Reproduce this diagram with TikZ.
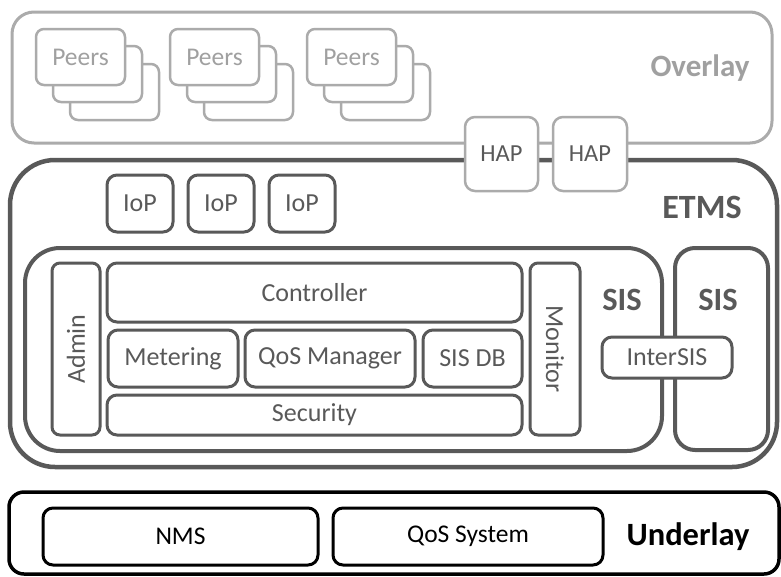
\documentclass[tikz,border=0pt]{standalone}
\usepackage{fontspec}
\setmainfont{Carlito}
\definecolor{lightg}{RGB}{171,171,171}
\definecolor{lightt}{RGB}{160,160,160}
\definecolor{darkg}{RGB}{89,89,89}
\begin{document}
\begin{tikzpicture}[x=1pt,y=-1pt,
  base/.style={draw,inner sep=0pt,outer sep=0pt,align=center},
  peer/.style={base,draw=lightg,line width=2.5pt,rounded corners=8pt,fill=white,
    minimum width=89pt,minimum height=56pt,text=lightt,font=\fontsize{25.5}{30}\selectfont},
  hap/.style={base,draw=lightg,line width=2.5pt,rounded corners=10pt,fill=white,
    text=darkg,font=\fontsize{24.5}{28}\selectfont},
  inbox/.style={base,draw=darkg,line width=3pt,rounded corners=10pt,fill=white,
    text=darkg,font=\fontsize{26}{30}\selectfont},
  ubox/.style={base,draw=black,line width=3pt,rounded corners=10pt,fill=white,
    text=black,font=\fontsize{25.5}{30}\selectfont},
  layer/.style={font=\bfseries\fontsize{31}{36}\selectfont,inner sep=0pt}
]
\useasboundingbox (0,0) rectangle (781,576);
\fill[white] (0,0) rectangle (781,576);

% Overlay
\node[base,draw=lightg,line width=3pt,rounded corners=22pt,minimum width=760pt,minimum height=131pt] (overlay) at (392,77.5) {};
\foreach \cx/\n in {80.5/a,214.5/b,351.5/c}{
  \node[peer] (peer\n3) at (\cx+34,57+35) {};
  \node[peer] (peer\n2) at (\cx+17,57+17) {};
  \node[peer] (peer\n1) at (\cx,57) {Peers};
}
\node[layer,text=lightt] (overlaylbl) at (700,68) {Overlay};

% ETMS
\node[base,draw=darkg,line width=4.5pt,rounded corners=45pt,minimum width=767pt,minimum height=307pt] (etms) at (393.5,313.5) {};
\node[hap,minimum width=73pt,minimum height=74pt] (hap1) at (501.5,154) {HAP};
\node[hap,minimum width=74pt,minimum height=74pt] (hap2) at (590,154) {HAP};
\node[layer,text=darkg,font=\bfseries\fontsize{34}{38}\selectfont] (etmslbl) at (702,207) {ETMS};

\foreach \cx/\n in {140/1,221/2,302/3}{
  \node[inbox,minimum width=66pt,minimum height=57pt] (iop\n) at (\cx,203.5) {IoP};
}

% SIS
\node[base,draw=darkg,line width=4pt,rounded corners=35pt,minimum width=637pt,minimum height=203pt] (sis) at (343.5,349.5) {};
\node[base,draw=darkg,line width=4pt,rounded corners=20pt,minimum width=93pt,minimum height=202pt] (sis2) at (721.5,349) {};
\node[layer,text=darkg,font=\bfseries\fontsize{32.5}{36}\selectfont] (sislbl) at (622,300) {SIS};
\node[layer,text=darkg,font=\bfseries\fontsize{32.5}{36}\selectfont] (sis2lbl) at (718,300) {SIS};

\node[inbox,rotate=90,minimum width=172pt,minimum height=48pt,rounded corners=8pt] (admin) at (76,349) {Admin};
\node[inbox,minimum width=415pt,minimum height=59pt] (controller) at (314.5,292.5) {Controller};
\node[inbox,minimum width=130pt,minimum height=57pt] (metering) at (173,358.5) {Metering};
\node[inbox,minimum width=170pt,minimum height=57pt] (qosman) at (330,358.5) {QoS Manager};
\node[inbox,minimum width=99pt,minimum height=57pt] (sisdb) at (472.5,358.5) {SIS DB};
\node[inbox,minimum width=415pt,minimum height=40pt] (security) at (314.5,415) {Security};
\node[inbox,rotate=-90,minimum width=172pt,minimum height=50pt,rounded corners=8pt] (monitor) at (555,349) {Monitor};
\node[inbox,minimum width=130pt,minimum height=41pt] (intersis) at (667,357.5) {InterSIS};

% Underlay
\node[base,draw=black,line width=3.5pt,rounded corners=15pt,minimum width=770pt,minimum height=82pt] (underlay) at (394,533) {};
\node[ubox,minimum width=275pt,minimum height=57pt] (nms) at (180.5,536.5) {NMS};
\node[ubox,minimum width=270pt,minimum height=57pt] (qossys) at (468,536.5) {QoS System};
\node[layer,text=black,font=\bfseries\fontsize{32.5}{36}\selectfont] (underlaylbl) at (688,537) {Underlay};
\end{tikzpicture}
\end{document}
